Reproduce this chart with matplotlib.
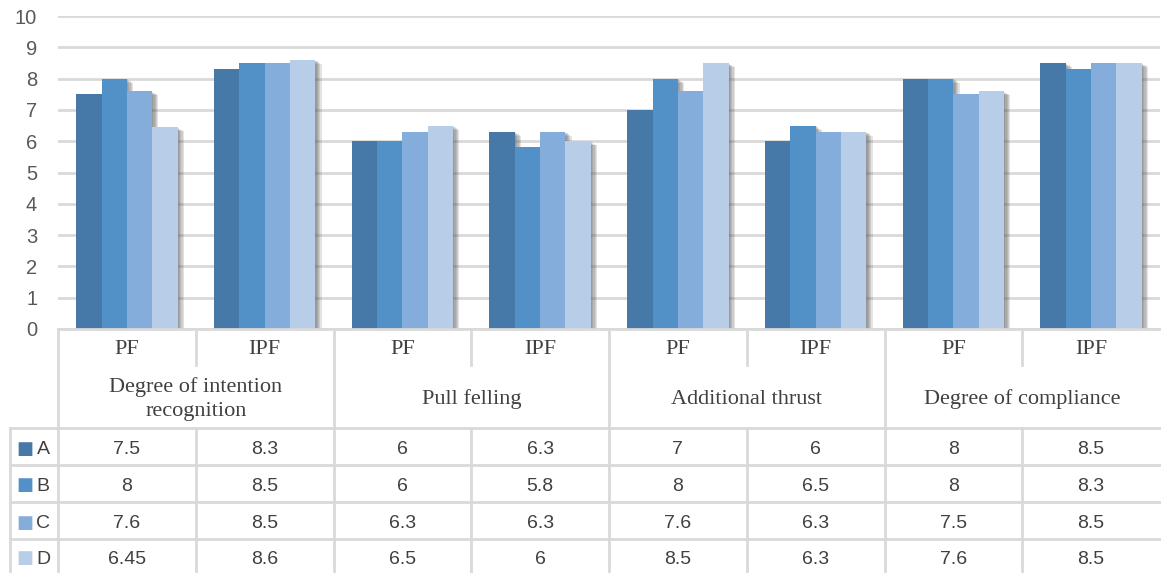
import numpy as np
import matplotlib.pyplot as plt
import matplotlib.patheffects as pe

# Scores per column (PF / IPF under each criterion)
criteria = ['Degree of intention\nrecognition', 'Pull felling',
            'Additional thrust', 'Degree of compliance']
methods = ['PF', 'IPF']
series_names = ['A', 'B', 'C', 'D']
a_vals = [7.5, 8.3, 6, 6.3, 7, 6, 8, 8.5]
b_vals = [8, 8.5, 6, 5.8, 8, 6.5, 8, 8.3]
c_vals = [7.6, 8.5, 6.3, 6.3, 7.6, 6.3, 7.5, 8.5]
d_vals = [6.45, 8.6, 6.5, 6, 8.5, 6.3, 7.6, 8.5]
colors = ['#4678a8', '#5290c8', '#85addb', '#b7cde8']

W, H = 1161, 573
fig = plt.figure(figsize=(W / 100, H / 100), dpi=100)
grid_col = '#d9d9d9'
txt_col = '#404040'

# chart area
ax = fig.add_axes([58 / W, (H - 329) / H, (1160 - 58) / W, (329 - 16) / H])
series = [a_vals, b_vals, c_vals, d_vals]
n = len(a_vals)
x = np.arange(n)
bw = 0.184
# soft drop shadow: several faint offset copies stacked
shadow = [pe.SimplePatchShadow(offset=(0.9 * k, -0.6 * k), shadow_rgbFace='#555555',
                               alpha=0.16) for k in range(1, 6)]
shadow.append(pe.Normal())
for i, vals in enumerate(series):
    bars = ax.bar(x + (i - 1.5) * bw, vals, bw, color=colors[i], zorder=3)
    for b in bars:
        b.set_path_effects(shadow)
ax.set_xlim(-0.5, n - 0.5)
ax.set_ylim(0, 10)
ax.set_yticks(range(0, 11))
ax.yaxis.grid(True, color=grid_col, lw=2)
ax.set_axisbelow(True)
ax.set_xticks([])
for s in ax.spines.values():
    s.set_visible(False)
ax.tick_params(axis='y', length=0, pad=15, labelsize=14.5, labelcolor='#595959')
for lab in ax.get_yticklabels():
    lab.set_fontfamily('Liberation Sans')

# data table under the chart, sharing the column positions
tab = fig.add_axes([58 / W, 0, (1160 - 58) / W, (H - 329) / H])
tab.set_xlim(-0.5, n - 0.5)
tab.set_ylim(244, 0)
tab.axis('off')
left = -0.5 - 48 / 137.75
rows = [0, 36, 99, 136, 173, 210, 244]
lk = dict(color=grid_col, lw=2, clip_on=False)

tab.plot([-0.5, n - 0.5], [0, 0], **lk)
for y in rows[2:6]:
    tab.plot([left, n - 0.5], [y, y], **lk)
tab.plot([left, left], [rows[2], 244], **lk)
tab.plot([-0.5, -0.5], [0, 244], **lk)
for k in range(1, n):
    if k % 2 == 0:
        tab.plot([k - 0.5, k - 0.5], [0, 244], **lk)
    else:
        tab.plot([k - 0.5, k - 0.5], [0, 36], **lk)
        tab.plot([k - 0.5, k - 0.5], [rows[2], 244], **lk)

serif = dict(family='Liberation Serif', fontsize=16, color=txt_col,
             ha='center', va='center')
for k in range(n):
    tab.text(k, 20, methods[k % 2], **serif)
for j, name in enumerate(criteria):
    tab.text(2 * j + 0.5, 70, name, linespacing=1.3, **serif)

sans = dict(family='Liberation Sans', fontsize=14, color=txt_col,
            ha='center', va='center')
for i, vals in enumerate(series):
    yc = (rows[2 + i] + rows[3 + i]) / 2 + 3
    tab.text(left + 15 / 137.75, yc - 1, '\u25a0', fontsize=13, color=colors[i],
             family='DejaVu Sans', ha='center', va='center', clip_on=False)
    tab.text(left + 33 / 137.75, yc, series_names[i], **sans)
    for k, v in enumerate(vals):
        tab.text(k, yc, f'{v:g}', **sans)

fig.savefig('out.png', dpi=100)
